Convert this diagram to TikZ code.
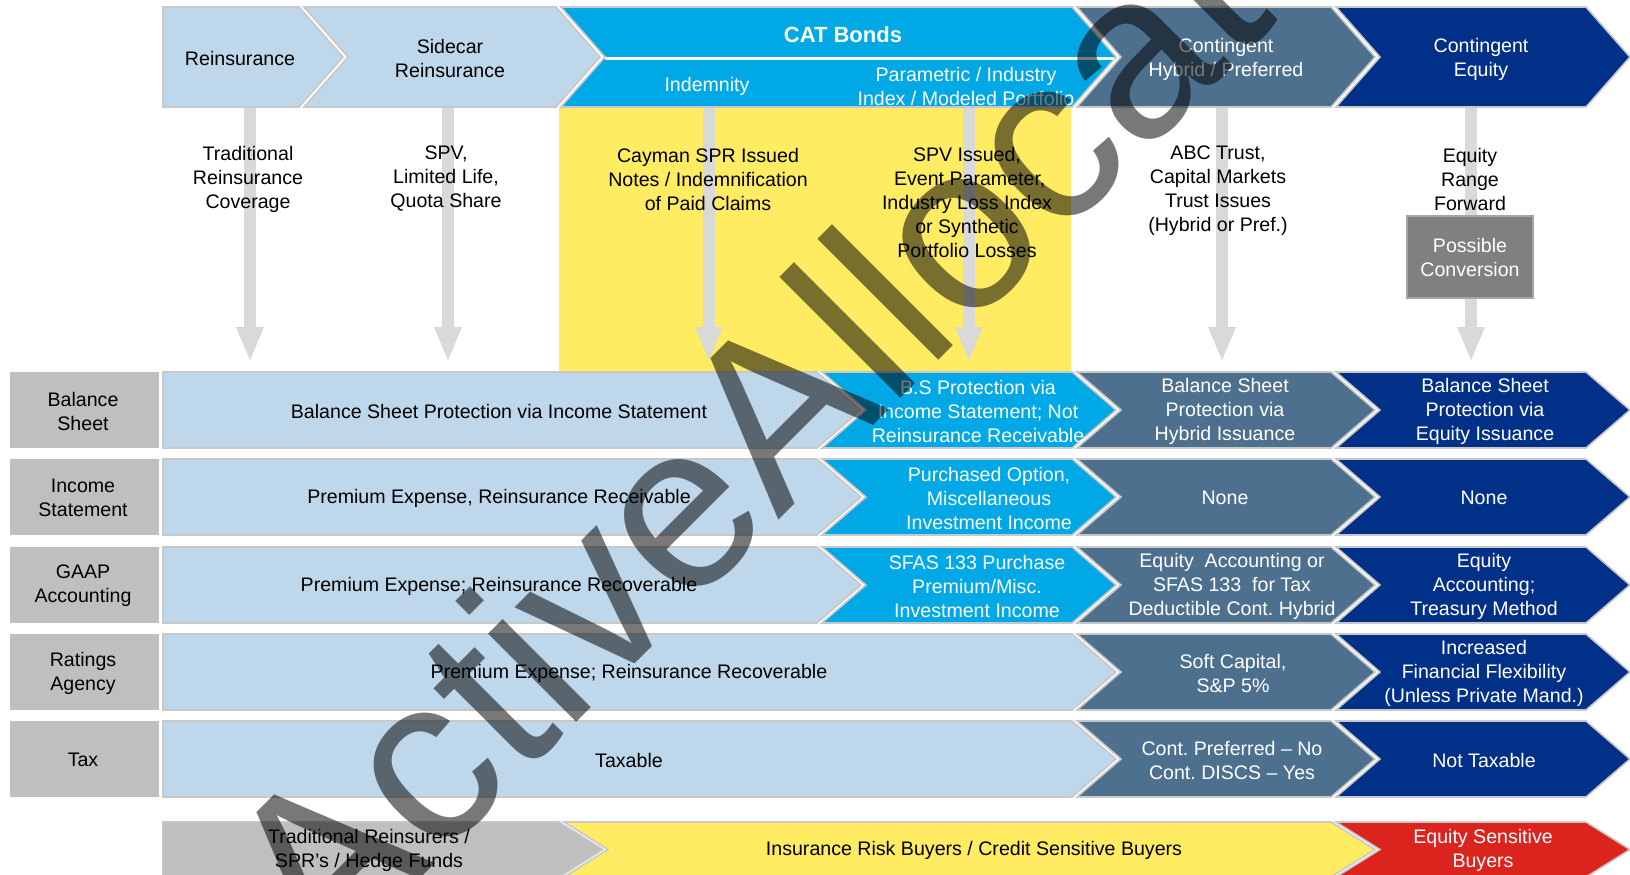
\documentclass[tikz,border=0pt]{standalone}
\usepackage{fontspec}
\setmainfont{Liberation Sans}
\usetikzlibrary{arrows.meta}
\definecolor{lblue}{RGB}{190,215,235}
\definecolor{catblue}{RGB}{0,168,230}
\definecolor{slate}{RGB}{78,112,143}
\definecolor{navy}{RGB}{0,48,135}
\definecolor{byellow}{RGB}{255,236,98}
\definecolor{bred}{RGB}{220,36,31}
\definecolor{lgray}{RGB}{191,191,191}
\definecolor{convgray}{RGB}{128,128,128}
\definecolor{convline}{RGB}{166,166,166}
\definecolor{arrowgray}{RGB}{217,217,217}
\definecolor{shapeline}{RGB}{200,200,200}
\def\chd{44}
% notched chevron: style, L, R, top, bottom
\newcommand\chevN[5]{\path[#1] (#2,#4) -- (#3,#4) -- ({#3+\chd},{(#4+#5)/2}) -- (#3,#5) -- (#2,#5) -- ({#2+\chd},{(#4+#5)/2}) -- cycle;}
% flat-left chevron
\newcommand\chevF[5]{\path[#1] (#2,#4) -- (#3,#4) -- ({#3+\chd},{(#4+#5)/2}) -- (#3,#5) -- (#2,#5) -- cycle;}
\frenchspacing
\begin{document}
\begin{tikzpicture}[x=0.5pt,y=-0.5pt,
  txt/.style={align=center,inner sep=0pt,font=\fontsize{9.8}{12}\selectfont\frenchspacing},
  wtxt/.style={txt,text=white},
  shp/.style={draw=shapeline,line width=0.8pt},
  garrow/.style={draw=arrowgray,line width=6pt,-{Triangle[length=17.5pt,width=12.5pt]}}]
\useasboundingbox (0,0) rectangle (1630,874);
\fill[white] (0,0) rectangle (1630,874);
% yellow area
\fill[byellow] (559,107) rectangle (1071,371);
% vertical arrows
\foreach \n/\x in {1/250,2/448,3/709,4/969,5/1222,6/1471}{
  \coordinate (as\n) at (\x,100);
  \coordinate (ae\n) at (\x,362);
  \draw[garrow] (as\n) -- (ae\n);
}
% top row
\chevF{shp,fill=lblue}{163}{299}{7}{107}
\chevN{shp,fill=lblue}{304}{556}{7}{107}
\chevN{shp,fill=catblue}{561}{1072}{7}{107}
\chevN{shp,fill=slate}{1077}{1331}{7}{107}
\chevN{shp,fill=navy}{1336}{1586}{7}{107}
\draw[white,line width=1.5pt] (605,58) -- (1114,58);
\node[txt] (t1) at (240,58) {Reinsurance};
\node[txt] (t2) at (450,58) {Sidecar\\Reinsurance};
\node[txt,text=white,font=\fontsize{11}{13}\selectfont\bfseries] (t3) at (843,35) {CAT Bonds};
\node[wtxt] (t3a) at (707,86) {Indemnity};
\node[wtxt] (t3b) at (966,86) {Parametric / Industry\\Index / Modeled Portfolio};
\node[wtxt] (t4) at (1226,59) {Contingent\\Hybrid / Preferred};
\node[wtxt] (t5) at (1481,59) {Contingent\\Equity};
% descriptions
\node[txt] (d1) at (248,179) {Traditional\\Reinsurance\\Coverage};
\node[txt] (d2) at (446,179) {SPV,\\Limited Life,\\Quota Share};
\node[txt] (d3) at (708,179) {Cayman SPR Issued\\Notes / Indemnification\\of Paid Claims};
\node[txt] (d4) at (967,202) {SPV Issued,\\\ Event Parameter,\\Industry Loss Index\\or Synthetic\\Portfolio Losses};
\node[txt] (d5) at (1218,191) {ABC Trust,\\Capital Markets\\Trust Issues\\(Hybrid or Pref.)};
\node[txt] (d6) at (1470,179) {Equity\\Range\\Forward};
\node[wtxt,fill=convgray,draw=convline,line width=1pt,minimum width=63pt,minimum height=41pt] (pc) at (1470,257) {Possible\\Conversion};
% row labels
\foreach \t/\b/\s [count=\i] in {372/448/{Balance\\Sheet},459/535/{Income\\Statement},547/623/{GAAP\\Accounting},634/710/{Ratings\\Agency},721/797/{Tax}}{
  \fill[lgray] (10,\t) rectangle (159,\b);
  \node[txt] (lab\i) at (83,{(\t+\b)/2+1}) {\s};
}
% row 1
\chevF{shp,fill=lblue}{163}{817}{372}{448}
\chevN{shp,fill=catblue}{822}{1072}{372}{448}
\chevN{shp,fill=slate}{1077}{1331}{372}{448}
\chevN{shp,fill=navy}{1336}{1586}{372}{448}
\node[txt] (r1a) at (499,411) {Balance Sheet Protection via Income Statement};
\node[wtxt] (r1b) at (978,411) {B.S Protection via\\Income Statement; Not\\Reinsurance Receivable};
\node[wtxt] (r1c) at (1225,411) {Balance Sheet\\Protection via\\Hybrid Issuance};
\node[wtxt] (r1d) at (1485,411) {Balance Sheet\\Protection via\\Equity Issuance};
% row 2
\chevF{shp,fill=lblue}{163}{817}{459}{535}
\chevN{shp,fill=catblue}{822}{1072}{459}{535}
\chevN{shp,fill=slate}{1077}{1331}{459}{535}
\chevN{shp,fill=navy}{1336}{1586}{459}{535}
\node[txt] (r2a) at (499,498) {Premium Expense, Reinsurance Receivable};
\node[wtxt] (r2b) at (989,498) {Purchased Option,\\Miscellaneous\\Investment Income};
\node[wtxt] (r2c) at (1225,498) {None};
\node[wtxt] (r2d) at (1484,498) {None};
% row 3
\chevF{shp,fill=lblue}{163}{817}{547}{623}
\chevN{shp,fill=catblue}{822}{1072}{547}{623}
\chevN{shp,fill=slate}{1077}{1331}{547}{623}
\chevN{shp,fill=navy}{1336}{1586}{547}{623}
\node[txt] (r3a) at (499,586) {Premium Expense; Reinsurance Recoverable};
\node[wtxt] (r3b) at (977,586) {SFAS 133 Purchase\\Premium/Misc.\\Investment Income};
\node[wtxt] (r3c) at (1232,586) {Equity\ \ Accounting or\\SFAS 133\ \ for Tax\\Deductible Cont. Hybrid};
\node[wtxt] (r3d) at (1484,586) {Equity\\Accounting;\\Treasury Method};
% row 4
\chevF{shp,fill=lblue}{163}{1072}{634}{710}
\chevN{shp,fill=slate}{1077}{1331}{634}{710}
\chevN{shp,fill=navy}{1336}{1586}{634}{710}
\node[txt] (r4a) at (629,673) {Premium Expense; Reinsurance Recoverable};
\node[wtxt] (r4c) at (1233,673) {Soft Capital,\\S\&P 5\%};
\node[wtxt] (r4d) at (1484,673) {Increased\\Financial Flexibility\\(Unless Private Mand.)};
% row 5
\chevF{shp,fill=lblue}{163}{1072}{721}{797}
\chevN{shp,fill=slate}{1077}{1331}{721}{797}
\chevN{shp,fill=navy}{1336}{1586}{721}{797}
\node[txt] (r5a) at (629,760) {Taxable};
\node[wtxt] (r5c) at (1232,760) {Cont. Preferred – No\\Cont. DISCS – Yes};
\node[wtxt] (r5d) at (1484,760) {Not Taxable};
% bottom row
\chevF{shp,fill=lgray}{163}{559}{822}{877}
\chevN{shp,fill=byellow}{564}{1331}{822}{877}
\chevN{shp,fill=bred}{1336}{1586}{822}{877}
\node[txt] (b1) at (369,850) {Traditional Reinsurers /\\SPR’s / Hedge Funds};
\node[txt] (b2) at (974,850) {Insurance Risk Buyers / Credit Sensitive Buyers};
\node[wtxt] (b3) at (1483,850) {Equity Sensitive\\Buyers};
% watermark
\begin{scope}
\clip (0,0) rectangle (1630,874);
\node[rotate=45,anchor=base west,inner sep=0pt,text=black,text opacity=0.53,font=\fontsize{118}{118}\selectfont] (wm) at (324,975) {ActiveAllocat};
\end{scope}
\end{tikzpicture}
\end{document}
